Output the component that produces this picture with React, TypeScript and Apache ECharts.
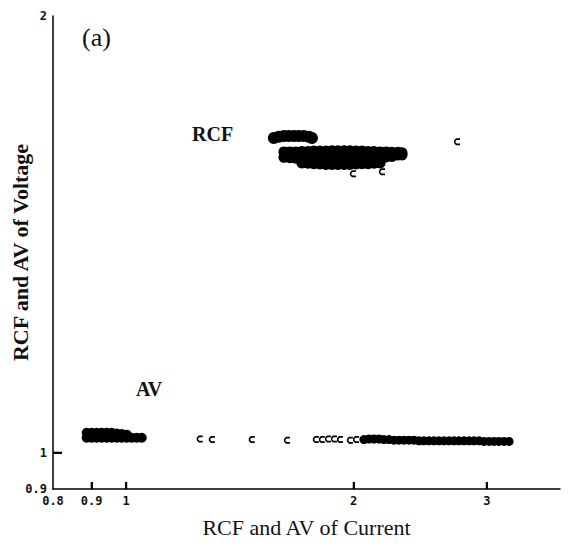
import React, { useEffect, useRef } from "react";
import * as echarts from "echarts";

// Axis ticks / labels (real values, log-scaled axes)
const xRange = [0.8, 3.75];
const yRange = [0.944, 2];
const xTickValues = [0.9, 1, 2, 3];
const xLabelValues = [0.8, 0.9, 1, 2, 3];
const xLabelTexts = ["0.8", "0.9", "1", "2", "3"];
const yTickValues = [1];
const yLabelValues = [0.944, 1, 2];
const yLabelTexts = ["0.9", "1", "2"];

// RCF points [current, voltage]
const rcfUpperBlob: [number, number][] = [
  [1.568, 1.648], [1.592, 1.651], [1.617, 1.653], [1.641, 1.653], [1.667, 1.653],
  [1.692, 1.653], [1.718, 1.653], [1.745, 1.651], [1.761, 1.648],
];
const rcfMainBlob: [number, number][] = [
  [1.617, 1.612], [1.647, 1.612], [1.677, 1.612], [1.708, 1.613], [1.74, 1.613],
  [1.771, 1.614], [1.804, 1.614], [1.838, 1.614], [1.872, 1.615], [1.906, 1.615],
  [1.942, 1.615], [1.977, 1.615], [2.014, 1.614], [2.051, 1.614], [2.089, 1.613],
  [2.127, 1.613], [2.167, 1.612], [2.207, 1.612], [2.247, 1.611], [2.289, 1.611],
  [2.317, 1.61],
  [1.617, 1.598], [1.647, 1.597], [1.677, 1.596], [1.708, 1.596], [1.74, 1.596],
  [1.771, 1.596], [1.804, 1.596], [1.838, 1.596], [1.872, 1.596], [1.906, 1.596],
  [1.942, 1.596], [1.977, 1.596], [2.014, 1.596], [2.051, 1.597], [2.089, 1.597],
  [2.127, 1.598], [2.167, 1.598], [2.207, 1.599], [2.247, 1.6], [2.289, 1.604],
  [2.317, 1.604],
  [1.708, 1.584], [1.74, 1.583], [1.771, 1.582], [1.804, 1.581], [1.838, 1.58],
  [1.872, 1.58], [1.906, 1.58], [1.942, 1.58], [1.977, 1.58], [2.014, 1.581],
  [2.051, 1.582], [2.089, 1.582], [2.127, 1.583], [2.167, 1.584],
];
const rcfScattered: [number, number][] = [
  [2.74, 1.638], [1.995, 1.557], [2.18, 1.562],
];

// AV points [current, voltage]
const avLeftBlob: [number, number][] = [
  [0.8865, 1.032], [0.9, 1.032], [0.914, 1.032], [0.928, 1.032], [0.9423, 1.032],
  [0.9567, 1.032], [0.9714, 1.031], [0.9863, 1.03], [1.0015, 1.029],
  [0.8865, 1.024], [0.9, 1.024], [0.914, 1.024], [0.928, 1.024], [0.9423, 1.024],
  [0.9567, 1.024], [0.9714, 1.024], [0.9863, 1.024], [1.0015, 1.024], [1.0169, 1.024],
  [1.0325, 1.024], [1.0484, 1.024],
];
const avScattered: [number, number][] = [
  [1.251, 1.022], [1.298, 1.021], [1.466, 1.021], [1.632, 1.02], [1.782, 1.021],
  [1.815, 1.021], [1.849, 1.022], [1.883, 1.022], [1.918, 1.021], [1.977, 1.02],
  [2.014, 1.021],
];
const avRightBand: [number, number][] = [
  [2.063, 1.021], [2.095, 1.022], [2.127, 1.022], [2.16, 1.022], [2.193, 1.021],
  [2.227, 1.021], [2.261, 1.02], [2.296, 1.02], [2.331, 1.02], [2.367, 1.02],
  [2.403, 1.02], [2.44, 1.019], [2.477, 1.019], [2.515, 1.019], [2.554, 1.019],
  [2.593, 1.019], [2.633, 1.019], [2.674, 1.019], [2.715, 1.019], [2.756, 1.019],
  [2.799, 1.019], [2.842, 1.019], [2.886, 1.019], [2.93, 1.019], [2.975, 1.018],
  [3.021, 1.018], [3.068, 1.018], [3.114, 1.018], [3.162, 1.018], [3.211, 1.018],
];

const lg = (v: number) => Math.log10(v);
const toLog = (pts: [number, number][]) => pts.map(([x, y]) => [lg(x), lg(y)]);
const labelFor = (values: number[], texts: string[]) => (v: number) => {
  const i = values.findIndex((t) => Math.abs(lg(t) - v) < 1e-6);
  return i >= 0 ? texts[i] : "";
};

const cSymbol =
  "path://M10,1 L4,1 L1,3.5 L1,6.5 L4,9 L10,9 L10,7 L5,7 L3.3,5.8 L3.3,4.2 L5,3 L10,3 Z";
const serif = "'Liberation Serif', 'Times New Roman', serif";
const mono = "'DejaVu Sans Mono', monospace";

export default function App() {
  const ref = useRef<HTMLDivElement>(null);
  useEffect(() => {
    document.body.style.margin = "0";
    const chart = echarts.init(ref.current!, null, { renderer: "svg" });
    const dense = (name: string, data: [number, number][], size: number) => ({
      name,
      type: "scatter",
      data: toLog(data),
      symbol: "circle",
      symbolSize: size,
      itemStyle: { color: "#000", opacity: 1 },
      silent: true,
    });
    const sparse = (name: string, data: [number, number][]) => ({
      name,
      type: "scatter",
      data: toLog(data),
      symbol: cSymbol,
      symbolSize: [6, 7],
      itemStyle: { color: "#000", opacity: 1 },
      silent: true,
    });
    const tickSeries = (name: string, data: number[][], dx: number, dy: number) => ({
      name,
      type: "custom",
      coordinateSystem: "cartesian2d",
      silent: true,
      clip: false,
      z: 20,
      data,
      renderItem: (_p: any, api: any) => {
        const p = api.coord([api.value(0), api.value(1)]);
        return {
          type: "rect",
          shape: {
            x: dx === 0 ? p[0] - 1 : p[0],
            y: dy === 0 ? p[1] - 1 : p[1] + dy,
            width: dx === 0 ? 2 : dx,
            height: dy === 0 ? 2 : -dy,
          },
          style: { fill: "#000" },
        };
      },
    });
    chart.setOption({
      animation: false,
      backgroundColor: "#fff",
      grid: {
        left: 53,
        right: 8,
        top: 16,
        bottom: 57,
        containLabel: false,
        outerBoundsMode: "none",
      },
      xAxis: {
        type: "value",
        min: lg(xRange[0]),
        max: lg(xRange[1]),
        name: "RCF and AV of Current",
        nameLocation: "middle",
        nameGap: 27,
        nameMoveOverlap: false,
        nameTextStyle: { fontFamily: serif, fontSize: 22, color: "#111" },
        splitLine: { show: false },
        axisLine: { onZero: false, lineStyle: { color: "#000", width: 1.5 } },
        axisTick: {
          show: true,
          inside: true,
          length: 7,
          customValues: xTickValues.map(lg),
          lineStyle: { color: "#000", width: 2 },
        },
        axisLabel: {
          customValues: xLabelValues.map(lg),
          formatter: labelFor(xLabelValues, xLabelTexts),
          fontFamily: mono,
          fontSize: 12,
          fontWeight: "bold",
          color: "#111",
          margin: 6,
        },
      },
      yAxis: {
        type: "value",
        min: lg(yRange[0]),
        max: lg(yRange[1]),
        name: "RCF and AV of Voltage",
        nameLocation: "middle",
        nameGap: 22,
        nameMoveOverlap: false,
        nameTextStyle: { fontFamily: serif, fontSize: 22, color: "#111", fontWeight: "bold" },
        splitLine: { show: false },
        axisLine: { onZero: false, lineStyle: { color: "#000", width: 1.5 } },
        axisTick: {
          show: true,
          inside: true,
          length: 9,
          customValues: yTickValues.map(lg),
          lineStyle: { color: "#000", width: 2 },
        },
        axisLabel: {
          customValues: yLabelValues.map(lg),
          formatter: labelFor(yLabelValues, yLabelTexts),
          fontFamily: mono,
          fontSize: 12,
          fontWeight: "bold",
          color: "#111",
          margin: 6,
        },
      },
      series: [
        dense("RCF upper", rcfUpperBlob, 12),
        dense("RCF main", rcfMainBlob, 11),
        dense("AV left", avLeftBlob, 10),
        dense("AV right", avRightBand, 9),
        sparse("RCF scattered", rcfScattered),
        sparse("AV scattered", avScattered),
        tickSeries("x ticks", xTickValues.map((v) => [lg(v), lg(yRange[0])]), 0, -7),
        tickSeries("y ticks", yTickValues.map((v) => [lg(xRange[0]), lg(v)]), 9, 0),
      ],
      graphic: [
        {
          type: "text",
          left: 82,
          top: 24,
          style: { text: "(a)", font: `26px ${serif}`, fill: "#111" },
        },
        {
          type: "text",
          left: 192,
          top: 124,
          style: { text: "RCF", font: `bold 20px ${serif}`, fill: "#111" },
        },
        {
          type: "text",
          left: 136,
          top: 379,
          style: { text: "AV", font: `bold 20px ${serif}`, fill: "#111" },
        },
      ],
    });
    return () => chart.dispose();
  }, []);
  return <div ref={ref} style={{ width: 568, height: 546 }} />;
}
